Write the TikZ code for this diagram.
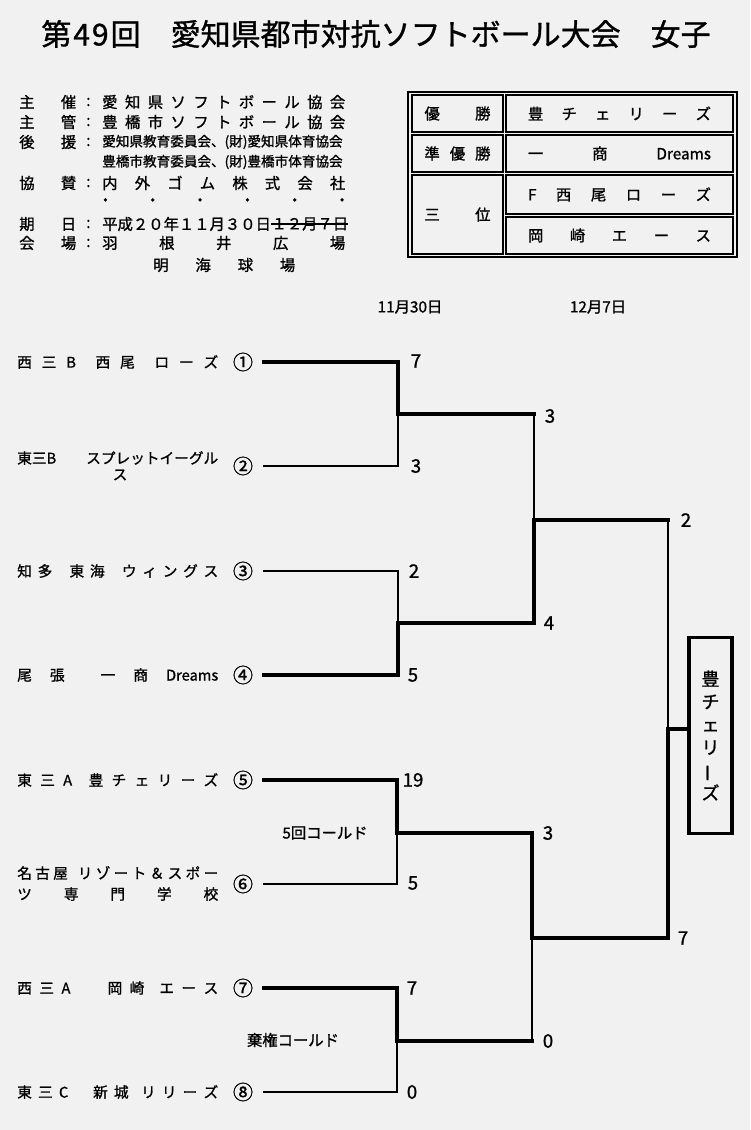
\documentclass[tikz,border=0pt]{standalone}
\usepackage{fontspec}
\setmainfont{Noto Sans CJK JP}[FakeBold=1.1]
\usetikzlibrary{positioning}
\newdimen\pxu \pxu=0.75pt
\newcommand\wl[2]{\makebox[#1\pxu][s]{#2}}
\definecolor{paper}{RGB}{241,241,241}

\begin{document}
\begin{tikzpicture}[x=0.75pt, y=-0.75pt,
  ttl/.style={inner sep=0pt, font=\fontsize{22.5}{24}\selectfont},
  lbl/.style={anchor=west, inner sep=0pt, font=\fontsize{11.5}{13}\selectfont},
  supp/.style={anchor=west, inner sep=0pt, font=\fontsize{10.2}{12}\selectfont},
  cell/.style={draw, line width=0.9pt, inner sep=0pt, font=\fontsize{11.5}{13}\selectfont},
  team/.style={anchor=west, inner sep=0pt, font=\fontsize{11}{13}\selectfont},
  num/.style={inner ysep=0pt, inner xsep=10\pxu, font=\fontsize{15}{15}\selectfont},
  score/.style={inner sep=0pt, font=\fontsize{14}{15}\selectfont},
  note/.style={inner sep=0pt, font=\fontsize{11.5}{13}\selectfont},
  champbox/.style={draw, line width=2.4pt, inner sep=0pt, align=center, font=\fontsize{13.5}{17.1}\selectfont},
  win/.style={line width=2.4pt, line cap=rect},
  lose/.style={line width=1pt}]
\useasboundingbox (0,0) rectangle (750,1130);
\fill[paper] (0,0) rectangle (750,1130);

% title
\node[ttl] (title) at (376,34) {第\kern1.5pt 4\kern1.5pt 9\kern1.5pt 回　愛知県都市対抗ソフトボール大会　女子};

% header
\node[lbl] (lb1) at (19,102) {\wl{57}{主 催}};
\node[lbl] (cl1) at (86,102) {:};
\node[lbl] (in1) at (102,102) {\wl{243}{愛 知 県 ソ フ ト ボ ー ル 協 会}};
\node[lbl] (lb2) at (19,122) {\wl{57}{主 管}};
\node[lbl] (cl2) at (86,122) {:};
\node[lbl] (in2) at (102,122) {\wl{243}{豊 橋 市 ソ フ ト ボ ー ル 協 会}};
\node[lbl] (lb3) at (19,142) {\wl{57}{後 援}};
\node[lbl] (cl3) at (86,142) {:};
\node[supp] (in3) at (102,142) {愛知県教育委員会、(財)愛知県体育協会};
\node[supp] (in4) at (102,162) {豊橋市教育委員会、(財)豊橋市体育協会};
\node[lbl] (lb4) at (19,183) {\wl{57}{協 賛}};
\node[lbl] (cl4) at (86,183) {:};
\node[lbl] (in5) at (102,183) {\wl{243}{内 外 ゴ ム 株 式 会 社}};
\node[lbl] (in6) at (97.5,202) {\wl{252}{・ ・ ・ ・ ・ ・}};
\node[lbl] (lb5) at (19,224) {\wl{57}{期 日}};
\node[lbl] (cl5) at (86,224) {:};
\node[lbl] (in7) at (102,224) {平成２０年１１月３０日};
\node[lbl, right=0pt of in7] (in8) {１２月７日};
\draw[line width=0.9pt] (in8.west) -- (in8.east);
\node[lbl] (lb6) at (19,243) {\wl{57}{会 場}};
\node[lbl] (cl6) at (86,243) {:};
\node[lbl] (in9) at (102,243) {\wl{243}{羽 根 井 広 場}};
\node[lbl] (in10) at (153,265) {\wl{142}{明 海 球 場}};

% results table
\node[draw, line width=1.5pt, minimum width=329\pxu, minimum height=165\pxu, inner sep=0pt] (frame) at (572.5,174.5) {};
\node[cell, minimum width=91\pxu, minimum height=37\pxu] (c11) at (457.5,113.5) {\wl{66}{優 勝}};
\node[cell, minimum width=227\pxu, minimum height=37\pxu] (c12) at (619.5,113.5) {\wl{183}{豊 チ ェ リ ー ズ}};
\node[cell, minimum width=91\pxu, minimum height=37\pxu] (c21) at (457.5,153.5) {\wl{66}{準 優 勝}};
\node[cell, minimum width=227\pxu, minimum height=37\pxu] (c22) at (619.5,153.5) {\wl{183}{一 商 Dreams}};
\node[cell, minimum width=91\pxu, minimum height=79\pxu] (c31) at (457.5,214.5) {\wl{66}{三 位}};
\node[cell, minimum width=227\pxu, minimum height=39\pxu] (c32) at (619.5,194.5) {\wl{183}{F 西 尾 ロ ー ズ}};
\node[cell, minimum width=227\pxu, minimum height=37\pxu] (c42) at (619.5,235.5) {\wl{183}{岡 崎 エ ー ス}};

% dates
\node[note] (d1) at (410,307) {11月30日};
\node[note] (d2) at (598,307) {12月7日};

% teams
\node[team] (tm1) at (17,362) {\wl{201}{西 三 B ~西 尾 ~ロ ー ズ}};
\node[team] (tm2a) at (17,458) {\wl{201}{東三B\hfill スプレットイーグル}};
\node[team, anchor=center] (tm2b) at (120,475) {ス};
\node[team] (tm3) at (17,571) {\wl{201}{知 多 ~ 東 海 ~ ウ ィ ン グ ス}};
\node[team] (tm4) at (17,675) {\wl{201}{尾 張 ~一 商 Dreams}};
\node[team] (tm5) at (17,780) {\wl{201}{東 三 A ~豊 チ ェ リ ー ズ}};
\node[team] (tm6a) at (17,873) {\wl{201}{名 古 屋 ~ リ ゾ ー ト ＆ ス ポ ー}};
\node[team] (tm6b) at (17,894) {\wl{201}{ツ 専 門 学 校}};
\node[team] (tm7) at (17,988) {\wl{201}{西 三 A ~~~~岡 崎 ~エ ー ス}};
\node[team] (tm8) at (17,1092) {\wl{201}{東 三 C ~~~新 城 ~リ リ ー ズ}};

\node[num] (n1) at (243,362) {①};
\node[num] (n2) at (243,466) {②};
\node[num] (n3) at (243,571) {③};
\node[num] (n4) at (243,675) {④};
\node[num] (n5) at (243,780) {⑤};
\node[num] (n6) at (243,884) {⑥};
\node[num] (n7) at (243,988) {⑦};
\node[num] (n8) at (243,1092) {⑧};

% bracket
\coordinate (j1) at (398,414);
\coordinate (j2) at (398,623);
\coordinate (j3) at (397,833);
\coordinate (j4) at (397,1041);
\coordinate (k1) at (534,520);
\coordinate (k2) at (532,938);
\coordinate (fin) at (668,729);
\node[champbox, minimum width=43\pxu, minimum height=196\pxu] (champ) at (710.5,735.5) {豊\\チ\\ェ\\リ\\\rotatebox[origin=c]{90}{ー}\\ズ};

\draw[win] (n1.east) -| (j1);
\draw[lose] (n2.east) -| (j1);
\draw[lose] (n3.east) -| (j2);
\draw[win] (n4.east) -| (j2);
\draw[win] (n5.east) -| (j3);
\draw[lose] (n6.east) -| (j3);
\draw[win] (n7.east) -| (j4);
\draw[lose] (n8.east) -| (j4);
\draw[win] (j1) -- (j1 -| k1);
\draw[lose] (j1 -| k1) -- (k1);
\draw[win] (j2) -| (k1);
\draw[win] (j3) -| (k2);
\draw[win] (j4) -- (j4 -| k2);
\draw[lose] (j4 -| k2) -- (k2);
\draw[win] (k1) -- (k1 -| fin);
\draw[lose] (k1 -| fin) -- (fin);
\draw[win] (k2) -| (fin);
\draw[win] (fin) -- (fin -| champ.west);

% scores
\node[score] (s1) at (416,361) {7};
\node[score] (s2) at (416,466) {3};
\node[score] (s3) at (414,571) {2};
\node[score] (s4) at (413,675) {5};
\node[score] (s5) at (413,780) {19};
\node[score] (s6) at (413,883) {5};
\node[score] (s7) at (412,988) {7};
\node[score] (s8) at (412,1092) {0};
\node[score] (q1) at (550,416) {3};
\node[score] (q2) at (549,623) {4};
\node[score] (q3) at (548,833) {3};
\node[score] (q4) at (548,1041) {0};
\node[score] (f1) at (686,520) {2};
\node[score] (f2) at (683,938) {7};

\node[note] (cold1) at (325,833) {5回コールド};
\node[note] (cold2) at (293,1040) {棄権コールド};
\end{tikzpicture}
\end{document}
